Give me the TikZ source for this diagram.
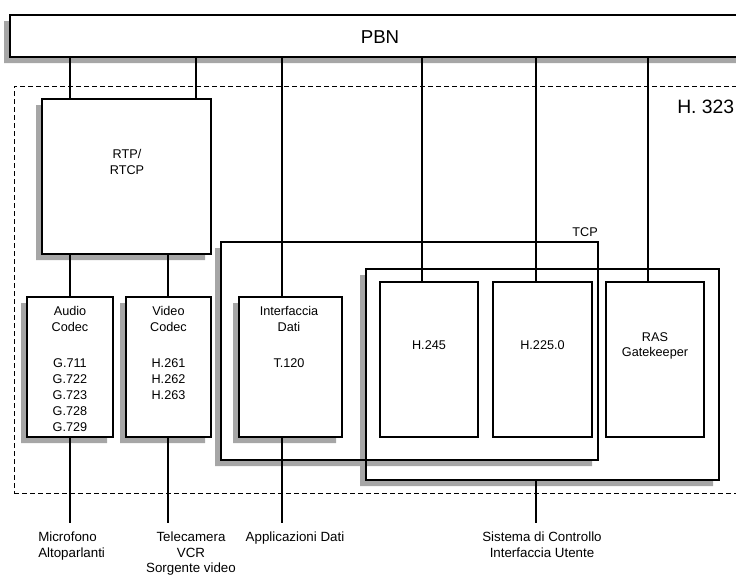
\documentclass[tikz,border=0pt]{standalone}
\usepackage{fontspec}
\setmainfont{Liberation Sans}
\usetikzlibrary{fit,backgrounds}
\definecolor{shadowgray}{gray}{0.65}
\newcommand{\shd}{4.5pt}
% grey shadow down-left of a box, only where it shows
\newcommand{\boxshadow}[1]{%
  \fill[shadowgray] ([xshift=-\shd,yshift=-\shd]#1.north west) -- ([yshift=-\shd]#1.north west)
    -- (#1.south west) -- ([xshift=-\shd]#1.south east) -- ([xshift=-\shd,yshift=-\shd]#1.south east)
    -- ([xshift=-\shd,yshift=-\shd]#1.south west) -- cycle;}
\begin{document}
\begin{tikzpicture}[x=0.75pt, y=-0.75pt]
    % Define block styles
    \tikzstyle{block} = [rectangle, draw, line width=0.9pt, inner sep=0pt, outer sep=0pt]
    \tikzstyle{zone} = [rectangle, draw, line width=0.75pt, dash pattern=on 3.75pt off 2.25pt, inner sep=0pt, outer sep=0pt]
    \tikzstyle{txt} = [font=\fontsize{9.5}{12}\selectfont, align=center, inner sep=0pt]
    \tikzstyle{big} = [font=\fontsize{14}{16}\selectfont, inner sep=0pt]
    \tikzstyle{ext} = [font=\fontsize{10}{11.5}\selectfont, inner sep=0pt]
    \tikzstyle{line} = [draw, line width=0.8pt]

    \useasboundingbox (0,0) rectangle (736,575);

    % Place nodes
    \node [zone, fit={(14,86) (760,493)}] (h323) {};
    \node [block, fit={(10,15) (760,57)}] (pbn) {};
    \node [block, fit={(42,99) (211,254)}] (rtp) {};
    \node [block, fit={(27,297) (113,437)}] (audio) {};
    \node [block, fit={(126,297) (211,437)}] (video) {};
    \node [block, fit={(239,297) (342,437)}] (dati) {};
    \node [block, fit={(221,242) (598,460)}] (tcp) {};
    \node [block, fit={(366,269) (719,480)}] (ctrl) {};
    \node [block, fit={(380,282) (478,437)}] (h245) {};
    \node [block, fit={(493,282) (592,437)}] (h225) {};
    \node [block, fit={(606,282) (704,437)}] (ras) {};

    % Shadows
    \begin{scope}[on background layer]
      \foreach \n in {pbn, rtp, audio, video, dati, tcp, ctrl} {\boxshadow{\n}}
    \end{scope}

    % Texts
    \node [big] (pbntxt) at (380,37) {PBN};
    \node [big, font=\fontsize{14.5}{16}\selectfont, anchor=west] (h323txt) at (677,107) {H. 323};
    \node [txt, anchor=north] (rtptxt) at (127,149.5) {RTP/\\RTCP};
    \node [txt, anchor=north] (audiotxt) at (70,306) {Audio\\Codec\\[15pt]G.711\\G.722\\G.723\\G.728\\G.729};
    \node [txt, anchor=north] (videotxt) at (168.5,306) {Video\\Codec\\[15pt]H.261\\H.262\\H.263};
    \node [txt, anchor=north] (datitxt) at (289,306) {Interfaccia\\Dati\\[15pt]T.120};
    \node [txt, anchor=base east] (tcptxt) at ([yshift=4pt]tcp.north east) {TCP};
    \node [txt] (h245txt) at (h245 |- 0,345) {H.245};
    \node [txt] (h225txt) at (h225 |- 0,345) {H.225.0};
    \node [txt, font=\fontsize{9.5}{11.25}\selectfont] (rastxt) at (ras |- 0,345.5) {RAS\\Gatekeeper};

    % Outside world
    \node [ext, anchor=north west, align=left] (mic) at (38,532) {Microfono\\Altoparlanti};
    \node [ext, anchor=north, align=center] (cam) at (191,532) {Telecamera\\VCR\\Sorgente video};
    \node [ext, anchor=north] (app) at (295,532) {Applicazioni Dati};
    \node [ext, anchor=north, align=center] (user) at (542,532) {Sistema di Controllo\\Interfaccia Utente};
    \coordinate (mictap) at (70,523);
    \coordinate (camtap) at (168,523);
    \coordinate (apptap) at (282,523);
    \coordinate (usertap) at (536,523);

    % Draw lines
    \path [line] (pbn.south -| 70,0) -- (rtp.north -| 70,0);
    \path [line] (pbn.south -| 196,0) -- (rtp.north -| 196,0);
    \path [line] (pbn.south -| 282,0) -- (dati.north -| 282,0);
    \path [line] (pbn.south -| 422,0) -- (h245.north -| 422,0);
    \path [line] (pbn.south -| 536,0) -- (h225.north -| 536,0);
    \path [line] (pbn.south -| 648,0) -- (ras.north -| 648,0);
    \path [line] (rtp.south -| 70,0) -- (audio.north -| 70,0);
    \path [line] (rtp.south -| 168,0) -- (video.north -| 168,0);
    \path [line] (audio.south -| mictap) -- (mictap);
    \path [line] (video.south -| camtap) -- (camtap);
    \path [line] (dati.south -| apptap) -- (apptap);
    \path [line] (ctrl.south -| usertap) -- (usertap);
\end{tikzpicture}
\end{document}
